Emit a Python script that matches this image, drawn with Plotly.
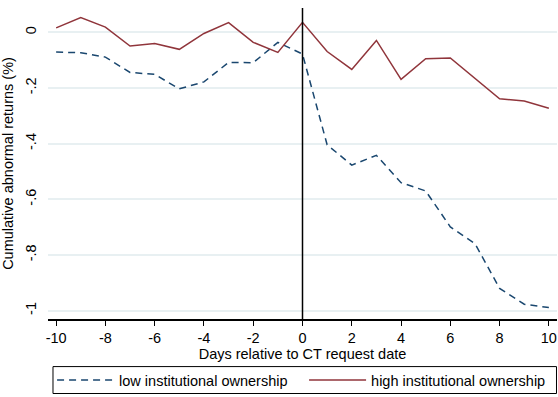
import plotly.graph_objects as go

days = list(range(-10, 11))
low_io = [-0.071, -0.073, -0.089, -0.144, -0.151, -0.203, -0.178, -0.108, -0.109, -0.036,
          -0.078, -0.404, -0.477, -0.442, -0.540, -0.570, -0.699, -0.759, -0.920, -0.977, -0.989]
high_io = [0.016, 0.053, 0.019, -0.049, -0.040, -0.061, -0.004, 0.035, -0.036, -0.072,
           0.036, -0.069, -0.133, -0.029, -0.169, -0.095, -0.092, -0.166, -0.239, -0.247, -0.273]
x_ticks = list(range(-10, 11, 2))
x_tick_labels = [str(v) for v in x_ticks]
y_ticks = [0, -0.2, -0.4, -0.6, -0.8, -1]
y_tick_labels = ["0", "-.2", "-.4", "-.6", "-.8", "-1"]

BLUE = "#1a476f"
RED = "#90353b"
FONT = "Arial"
FS = 14.5

fig = go.Figure()
fig.add_trace(go.Scatter(x=days, y=low_io, mode="lines", name="low institutional ownership",
                         line=dict(color=BLUE, width=1.5, dash="7px,5px")))
fig.add_trace(go.Scatter(x=days, y=high_io, mode="lines", name="high institutional ownership",
                         line=dict(color=RED, width=1.5)))

fig.add_shape(type="line", xref="x", yref="paper", x0=0, x1=0, y0=0, y1=1,
              line=dict(color="black", width=1.5))
# legend box
fig.add_shape(type="rect", xref="paper", yref="paper", x0=0.0098, x1=0.999, y0=-0.2396, y1=-0.153,
              line=dict(color="black", width=1), fillcolor="rgba(0,0,0,0)")

fig.update_layout(
    width=558, height=397,
    margin=dict(l=48, r=1, t=8, b=76),
    paper_bgcolor="white", plot_bgcolor="white",
    font=dict(family=FONT, size=FS, color="black"),
    showlegend=True,
    legend=dict(orientation="h", x=0.008, xanchor="left", y=-0.196, yanchor="middle",
                bgcolor="rgba(0,0,0,0)", borderwidth=0, font=dict(size=FS),
                entrywidth=180, entrywidthmode="pixels", itemwidth=57),
    xaxis=dict(range=[-10.33, 10.33], tickvals=x_ticks, ticktext=x_tick_labels, automargin=False,
               showgrid=False, zeroline=False, showline=True, linecolor="black", linewidth=1.5,
               ticks="outside", ticklen=5, tickcolor="black", tickwidth=1, ticklabelstandoff=0,
               tickfont=dict(size=FS),
               title=dict(text="Days relative to CT request date", standoff=4, font=dict(size=FS))),
    yaxis=dict(range=[-1.03, 0.0875], tickvals=y_ticks, ticktext=y_tick_labels, tickangle=-90,
               automargin=False,
               showgrid=True, gridcolor="#e8f0f2", gridwidth=1.5, zeroline=False, showline=False,
               ticks="", ticklabelstandoff=8, tickfont=dict(size=FS),
               title=dict(text="Cumulative abnormal returns (%)", standoff=6, font=dict(size=FS))),
)

fig.write_html("out.html")
